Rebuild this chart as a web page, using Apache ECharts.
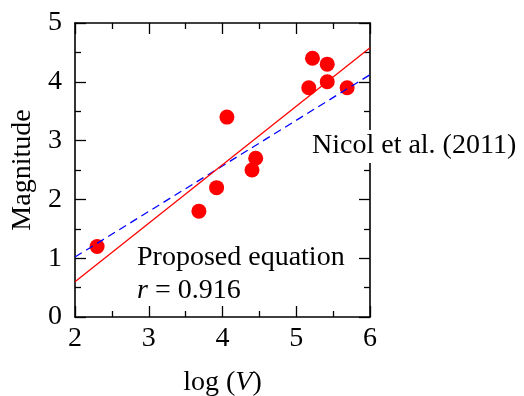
<!DOCTYPE html>
<html>
<head>
<meta charset="utf-8">
<script src="https://cdn.jsdelivr.net/npm/echarts@6/dist/echarts.min.js"></script>
<style>html,body{margin:0;padding:0;background:#fff;}#c{width:524px;height:396px;}</style>
</head>
<body>
<div id="c"></div>
<script>
// Data
const logV = [2.30, 3.68, 3.92, 4.06, 4.40, 4.45, 5.17, 5.22, 5.42, 5.42, 5.69];
const magnitude = [1.20, 1.80, 2.20, 3.40, 2.50, 2.70, 3.90, 4.40, 4.30, 4.00, 3.90];
const proposedLine = [[2, 0.60], [6, 4.58]];
const nicolLine = [[2, 1.02], [6, 4.12]];
const xTicks = [2, 3, 4, 5, 6];
const yTicks = [0, 1, 2, 3, 4, 5];
const labelProposed = 'Proposed equation';
const labelR = '0.916';
const labelNicol = 'Nicol et al. (2011)';

const FONT = 'Liberation Serif';
const FS = 28;
const points = logV.map((x, i) => [x, magnitude[i]]);

function axisBase(extra) {
  return Object.assign({
    type: 'value',
    axisLine: { show: true, onZero: false, lineStyle: { color: '#000', width: 1.6 } },
    axisTick: { show: true, inside: true, length: 11, lineStyle: { color: '#000', width: 1.3 } },
    minorTick: { show: true, splitNumber: 2, length: 6, lineStyle: { color: '#000', width: 1.3 } },
    splitLine: { show: false },
    minorSplitLine: { show: false },
    axisLabel: { show: true, color: '#000', fontFamily: FONT, fontSize: FS }
  }, extra);
}

const chart = echarts.init(document.getElementById('c'), null, { renderer: 'canvas' });
chart.setOption({
  animation: false,
  backgroundColor: '#fff',
  grid: { left: 75, right: 154, top: 23, bottom: 79, containLabel: false, outerBoundsMode: 'none' },
  xAxis: [
    axisBase({
      min: xTicks[0], max: xTicks[xTicks.length - 1], interval: 1, position: 'bottom',
      axisLabel: { show: true, color: '#000', fontFamily: FONT, fontSize: FS, margin: 8 },
      name: '{n|log (}{i|V}{n|)}', nameLocation: 'middle', nameGap: 52,
      nameTextStyle: {
        color: '#000', fontFamily: FONT, fontSize: FS,
        rich: {
          n: { fontFamily: FONT, fontSize: FS, color: '#000' },
          i: { fontFamily: FONT, fontSize: FS, color: '#000', fontStyle: 'italic' }
        }
      }
    }),
    axisBase({
      min: xTicks[0], max: xTicks[xTicks.length - 1], interval: 1, position: 'top',
      axisLabel: { show: false }
    })
  ],
  yAxis: [
    axisBase({
      min: yTicks[0], max: yTicks[yTicks.length - 1], interval: 1, position: 'left',
      axisLabel: { show: true, color: '#000', fontFamily: FONT, fontSize: FS, margin: 13 },
      name: 'Magnitude', nameLocation: 'middle', nameGap: 35, nameRotate: 90,
      nameTextStyle: { color: '#000', fontFamily: FONT, fontSize: FS }
    }),
    axisBase({
      min: yTicks[0], max: yTicks[yTicks.length - 1], interval: 1, position: 'right',
      axisLabel: { show: false }
    })
  ],
  series: [
    {
      type: 'scatter', xAxisIndex: 0, yAxisIndex: 0, data: points,
      symbol: 'circle', symbolSize: 15, itemStyle: { color: '#ff0000', opacity: 1 }, z: 2
    },
    {
      type: 'line', xAxisIndex: 0, yAxisIndex: 0, data: nicolLine, showSymbol: false, symbol: 'none',
      lineStyle: { color: '#0000ff', width: 1.3, type: [8, 5] }, z: 3
    },
    {
      type: 'line', xAxisIndex: 0, yAxisIndex: 0, data: proposedLine, showSymbol: false, symbol: 'none',
      lineStyle: { color: '#ff0000', width: 1.3 }, z: 4
    }
  ],
  graphic: [
    {
      type: 'text', left: 137, top: 244, z: 100,
      style: { text: labelProposed, fontFamily: FONT, fontSize: FS, fill: '#000' }
    },
    {
      type: 'text', left: 137, top: 277, z: 100,
      style: {
        text: '{i|r} = ' + labelR, fontFamily: FONT, fontSize: FS, fill: '#000',
        rich: {
          i: { fontFamily: FONT, fontSize: FS, fontStyle: 'italic', fill: '#000' }
        }
      }
    },
    {
      type: 'text', left: 310, top: 130, z: 100,
      style: {
        text: labelNicol, fontFamily: FONT, fontSize: FS, fill: '#000',
        backgroundColor: '#fff', padding: [2, 2, 3, 2]
      }
    }
  ]
});
</script>
</body>
</html>
